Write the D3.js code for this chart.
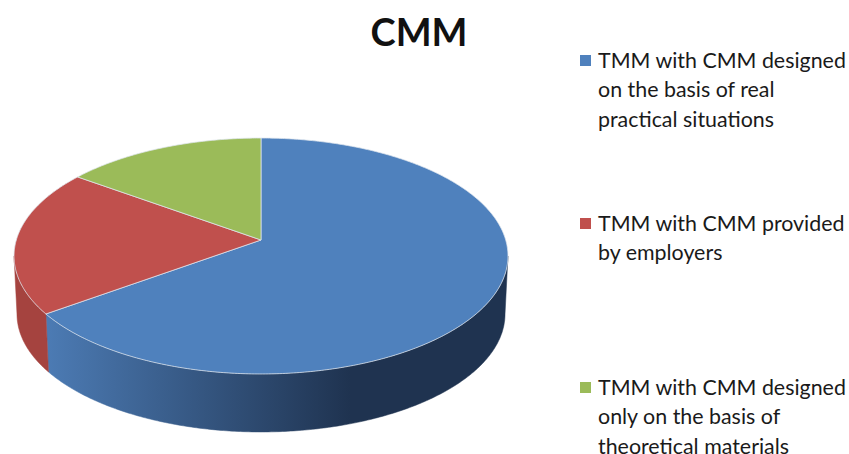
<!DOCTYPE html>
<html>
<head>
<meta charset="utf-8">
<script src="https://cdnjs.cloudflare.com/ajax/libs/d3/7.8.5/d3.min.js"></script>
<style>html,body{margin:0;padding:0;background:#fff;overflow:hidden}svg{display:block}</style>
</head>
<body>
<svg id="chart" width="849" height="454"></svg>
<script>
const chartTitle = "CMM";
const categories = [
  "TMM with CMM designed on the basis of real practical situations",
  "TMM with CMM provided by employers",
  "TMM with CMM designed only on the basis of theoretical materials"
];
const legendLines = [
  ["TMM with CMM designed", "on the basis of real", "practical situations"],
  ["TMM with CMM provided", "by employers"],
  ["TMM with CMM designed", "only on the basis of", "theoretical materials"]
];
const values = [65, 20, 15];
const topColors = ["#4f81bd", "#c0504d", "#9bbb59"];

const svg = d3.select("#chart");
const font = "Lato, Carlito, 'Open Sans', sans-serif";

const arcs = d3.pie().sort(null).startAngle(0).endAngle(2 * Math.PI)(values);

// Perspective projection of the pie disc (apex at 261,240)
const apex = {x: 261, y: 240}, depth = 58, k = 0.1356, a = 244.7, b = 115.8;
function project(theta, lower) {
  const u = Math.sin(theta), v = -Math.cos(theta), w = 1 - k * v;
  const s = lower ? 0.988 : 1;
  return [apex.x + s * a * u / w, apex.y + (lower ? depth : 0) + b * v / w];
}
const sample = (t0, t1) => {
  const n = Math.max(2, Math.ceil(Math.abs(t1 - t0) / 0.01));
  return d3.range(n + 1).map(i => t0 + (t1 - t0) * i / n);
};
const line = d3.line();
const silhouette = Math.acos(-k);

const defs = svg.append("defs");
const grad = defs.append("linearGradient").attr("id", "blueSide")
  .attr("gradientUnits", "userSpaceOnUse")
  .attr("x1", 46).attr("x2", 350).attr("y1", 0).attr("y2", 0);
grad.append("stop").attr("offset", 0).attr("stop-color", "#4c7bb4");
grad.append("stop").attr("offset", 1).attr("stop-color", "#1f3350");
const sideFills = ["url(#blueSide)", "#a5433f", "#7a9445"];

// Side walls, only where a slice faces the viewer
arcs.forEach((d, i) => {
  const t0 = Math.max(d.startAngle, silhouette);
  const t1 = Math.min(d.endAngle, 2 * Math.PI - silhouette);
  if (t1 <= t0) return;
  const ts = sample(t0, t1);
  const pts = ts.map(t => project(t, false)).concat(ts.slice().reverse().map(t => project(t, true)));
  svg.append("path").attr("d", line(pts) + "Z").attr("fill", sideFills[i])
    .attr("stroke", sideFills[i]).attr("stroke-width", 0.5);
});

// Top faces
arcs.forEach((d, i) => {
  const pts = [[apex.x, apex.y]].concat(sample(d.startAngle, d.endAngle).map(t => project(t, false)));
  svg.append("path").attr("d", line(pts) + "Z").attr("fill", topColors[i])
    .attr("stroke", "#dfe6ee").attr("stroke-opacity", 0.75).attr("stroke-width", 1).attr("stroke-linejoin", "round");
});

// Title
svg.append("text").attr("x", 419).attr("y", 46).attr("text-anchor", "middle")
  .attr("font-family", font).attr("font-weight", 700).attr("font-size", 38).attr("fill", "#111")
  .text(chartTitle);

// Legend
const legendY = [68, 231, 395];
legendLines.forEach((lines, i) => {
  svg.append("rect").attr("x", 580).attr("y", legendY[i] - 13).attr("width", 11).attr("height", 11).attr("fill", topColors[i]);
  const t = svg.append("text").attr("font-family", font).attr("font-size", 21.4).attr("fill", "#1a1a1a");
  t.append("title").text(categories[i]);
  lines.forEach((s, j) => {
    t.append("tspan").attr("x", 598).attr("y", legendY[i] + j * 29.3).text(s);
  });
});
</script>
</body>
</html>
